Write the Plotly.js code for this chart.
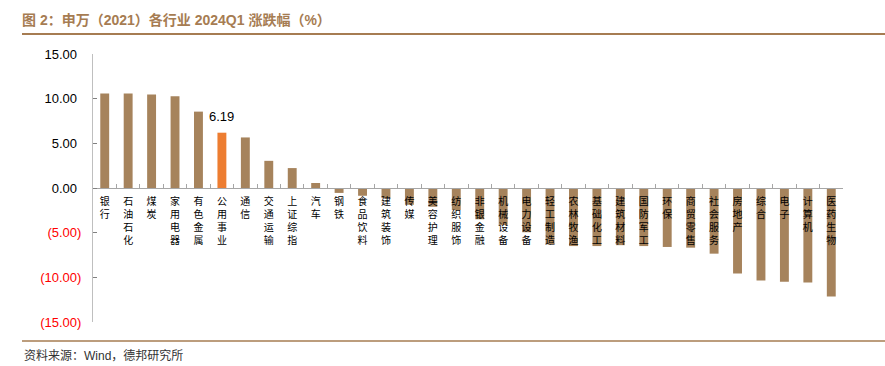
<!DOCTYPE html>
<html>
<head>
<meta charset="utf-8">
<script src="https://cdn.plot.ly/plotly-3.0.1.min.js"></script>
<style>html,body{margin:0;padding:0;background:#fff;}#chart{width:885px;height:366px;}</style>
</head>
<body>
<div id="chart"></div>
<script>
const categories = ["银行","石油石化","煤炭","家用电器","有色金属","公用事业","通信","交通运输","上证综指","汽车","钢铁","食品饮料","建筑装饰","传媒","美容护理","纺织服饰","非银金融","机械设备","电力设备","轻工制造","农林牧渔","基础化工","建筑材料","国防军工","环保","商贸零售","社会服务","房地产","综合","电子","计算机","医药生物"];
const changes = [10.57,10.57,10.46,10.27,8.55,6.19,5.66,3.04,2.23,0.56,-0.55,-0.87,-1.13,-1.88,-2.10,-2.47,-3.50,-4.15,-4.95,-6.30,-6.50,-6.50,-6.40,-6.50,-6.60,-6.68,-7.35,-9.56,-10.35,-10.50,-10.57,-12.15];
const highlight = "公用事业";
const yTickVals = [-15,-10,-5,0,5,10,15];

const brown = "#A6835C";
const orange = "#ED7D31";
const barColors = categories.map(c => c === highlight ? orange : brown);

const yTickText = yTickVals.map(v => {
  const s = Math.abs(v).toFixed(2);
  return v < 0 ? '<span style="color:#FF0000">(' + s + ')</span>'
               : s + '<span style="color:rgba(0,0,0,0)">)</span>';
});
const xTickText = categories.map(c => c.split("").join("<br>"));
const hi = categories.indexOf(highlight);

const trace = {
  type: "bar",
  x: categories,
  y: changes,
  marker: {color: barColors},
  hoverinfo: "x+y"
};

const lineColor = "#A67C52";
const layout = {
  width: 885, height: 366,
  margin: {l: 93, r: 42, t: 54, b: 44},
  paper_bgcolor: "#fff", plot_bgcolor: "#fff",
  bargap: 0.62,
  showlegend: false,
  font: {family: "Liberation Sans, Arial, Noto Sans CJK SC, sans-serif", color: "#000"},
  title: {
    text: "图 2：申万（2021）各行业 2024Q1 涨跌幅（%）",
    font: {family: "Liberation Sans, Arial, Noto Sans CJK SC, sans-serif", size: 14, color: "#A67C52", weight: "bold"},
    x: 22/885, xref: "container", xanchor: "left",
    y: 1 - 20/366, yref: "container", yanchor: "middle"
  },
  xaxis: {
    type: "category",
    range: [-0.5, categories.length - 0.5],
    anchor: "free", position: 0.5,
    showline: true, linecolor: "#A6A6A6", linewidth: 1,
    ticks: "inside", ticklen: 4, tickcolor: "#A6A6A6", tickson: "boundaries",
    tickmode: "array", tickvals: categories, ticktext: xTickText,
    tickangle: 0,
    tickfont: {family: "Noto Sans CJK SC, sans-serif", size: 10, color: "#000"},
    ticklabelstandoff: 4,
    showgrid: false, zeroline: false, fixedrange: true
  },
  yaxis: {
    range: [-15, 15],
    tickmode: "array", tickvals: yTickVals, ticktext: yTickText,
    showline: true, linecolor: "#BFBFBF", linewidth: 1,
    ticks: "inside", ticklen: 4, tickcolor: "#808080",
    tickfont: {family: "Liberation Sans, Arial, sans-serif", size: 13, color: "#000"},
    ticklabelstandoff: 8,
    showgrid: false, zeroline: false, fixedrange: true
  },
  annotations: [
    {x: categories[hi], y: changes[hi], xref: "x", yref: "y", text: changes[hi].toFixed(2),
     showarrow: false, yanchor: "bottom", yshift: 7,
     font: {family: "Liberation Sans, Arial, sans-serif", size: 13, color: "#000"}},
    {x: 22/885, y: 1 - 355/366, xref: "paper", yref: "paper", text: "资料来源：Wind，德邦研究所",
     showarrow: false, xanchor: "left", yanchor: "middle",
     font: {family: "Liberation Sans, Arial, Noto Sans CJK SC, sans-serif", size: 12, color: "#333"}}
  ],
  shapes: [
    {type: "line", xref: "paper", yref: "paper", x0: (22-93)/750, x1: (885-93)/750,
     y0: (366-44-34)/268, y1: (366-44-34)/268, line: {color: lineColor, width: 2}},
    {type: "line", xref: "paper", yref: "paper", x0: (22-93)/750, x1: (885-93)/750,
     y0: (366-44-341)/268, y1: (366-44-341)/268, line: {color: lineColor, width: 1.5}}
  ]
};
// fix annotation for source text: paper coords relative to plot area
layout.annotations[1].x = (22-93)/750;
layout.annotations[1].y = (366-44-355)/268;

Plotly.newPlot("chart", [trace], layout, {staticPlot: true, displayModeBar: false});
</script>
</body>
</html>
